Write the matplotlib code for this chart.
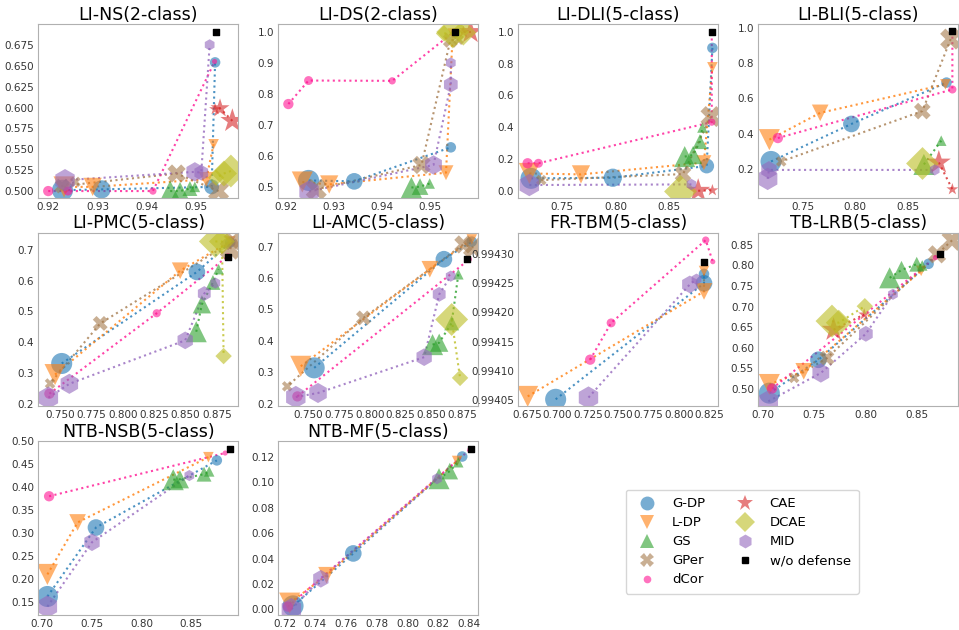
import numpy as np
import matplotlib.pyplot as plt
from matplotlib.lines import Line2D

methods = ['G-DP', 'L-DP', 'GS', 'GPer', 'dCor', 'CAE', 'DCAE', 'MID']
colors = ['tab:blue', 'tab:orange', 'tab:green', '#a57a4c', 'deeppink', 'tab:red', 'tab:olive', 'tab:purple']
markers = ['o', 'v', '^', 'X', 'o', '*', 'D', 'h']
base_size = [230, 230, 230, 230, 55, 330, 280, 260]

# (main task acc, attack acc) per defense, strongest defense first
li_ns = {
    'G-DP': [(0.9229, 0.501), (0.9308, 0.502), (0.9531, 0.505), (0.9538, 0.654)],
    'L-DP': [(0.9232, 0.505), (0.9290, 0.505), (0.9520, 0.514), (0.9535, 0.556)],
    'GS': [(0.9447, 0.500), (0.9467, 0.500), (0.9487, 0.503), (0.9497, 0.505)],
    'GPer': [(0.9545, 0.500), (0.9460, 0.521), (0.9228, 0.506), (0.9255, 0.511)],
    'dCor': [(0.9200, 0.500), (0.9240, 0.500), (0.9412, 0.500), (0.9537, 0.655)],
    'CAE': [(0.9573, 0.584), (0.9548, 0.599), (0.9538, 0.598)],
    'DCAE': [(0.9570, 0.524), (0.9556, 0.521), (0.9540, 0.516)],
    'MID': [(0.9234, 0.513), (0.9497, 0.523), (0.9510, 0.522), (0.9527, 0.675)],
}
li_ds = {
    'G-DP': [(0.9248, 0.520), (0.9343, 0.517), (0.9544, 0.627)],
    'L-DP': [(0.9235, 0.515), (0.9291, 0.507), (0.9534, 0.545), (0.9548, 0.995)],
    'GS': [(0.9462, 0.497), (0.9480, 0.500), (0.9500, 0.510)],
    'GPer': [(0.9264, 0.491), (0.9483, 0.570), (0.9543, 0.973), (0.9560, 0.975)],
    'dCor': [(0.9206, 0.767), (0.9248, 0.843), (0.9422, 0.842), (0.9550, 1.000)],
    'CAE': [(0.9585, 1.000), (0.9570, 1.000)],
    'DCAE': [(0.9548, 1.000), (0.9570, 0.998), (0.9530, 0.995)],
    'MID': [(0.9249, 0.484), (0.9508, 0.570), (0.9544, 0.830), (0.9544, 0.900)],
}
li_dli = {
    'G-DP': [(0.7204, 0.078), (0.7975, 0.082), (0.8860, 0.156), (0.8914, 0.899)],
    'L-DP': [(0.7188, 0.109), (0.7675, 0.103), (0.8834, 0.177), (0.8914, 0.777)],
    'GS': [(0.8653, 0.215), (0.8732, 0.225), (0.8796, 0.309), (0.8820, 0.398)],
    'GPer': [(0.8901, 0.467), (0.8637, 0.105), (0.7300, 0.067)],
    'dCor': [(0.7172, 0.173), (0.7274, 0.173), (0.8908, 0.432), (0.8908, 1.000)],
    'CAE': [(0.8780, 0.000), (0.8914, 0.003)],
    'DCAE': [(0.8610, 0.000)],
    'MID': [(0.7188, 0.036), (0.8716, 0.040)],
}
li_bli = {
    'G-DP': [(0.7200, 0.242), (0.7965, 0.455), (0.8870, 0.690)],
    'L-DP': [(0.7184, 0.366), (0.7668, 0.518), (0.8860, 0.680)],
    'GS': [(0.8655, 0.225), (0.8820, 0.360)],
    'GPer': [(0.8910, 0.937), (0.8640, 0.528), (0.7297, 0.242)],
    'dCor': [(0.7265, 0.375), (0.8926, 0.651), (0.8926, 0.975)],
    'CAE': [(0.8797, 0.236), (0.8926, 0.084)],
    'DCAE': [(0.8640, 0.232)],
    'MID': [(0.7168, 0.143), (0.7180, 0.194), (0.8758, 0.194)],
}
li_pmc = {
    'G-DP': [(0.7513, 0.331), (0.8590, 0.628), (0.8856, 0.724)],
    'L-DP': [(0.7460, 0.295), (0.8457, 0.632), (0.8856, 0.727)],
    'GS': [(0.8585, 0.434), (0.8630, 0.523), (0.8718, 0.594), (0.8763, 0.637)],
    'GPer': [(0.8856, 0.702), (0.8875, 0.728), (0.7820, 0.461), (0.7420, 0.266)],
    'dCor': [(0.7415, 0.233), (0.8270, 0.494), (0.8838, 0.680)],
    'CAE': [],
    'DCAE': [(0.8737, 0.727), (0.8790, 0.727), (0.8803, 0.355)],
    'MID': [(0.7407, 0.220), (0.7574, 0.265), (0.8497, 0.406), (0.8649, 0.558), (0.8737, 0.592)],
}
li_amc = {
    'G-DP': [(0.7549, 0.314), (0.8600, 0.660), (0.8826, 0.716)],
    'L-DP': [(0.7440, 0.319), (0.8486, 0.628), (0.8826, 0.723)],
    'GS': [(0.8508, 0.388), (0.8562, 0.394), (0.8663, 0.457), (0.8717, 0.612)],
    'GPer': [(0.8840, 0.697), (0.8758, 0.707), (0.7948, 0.473), (0.7330, 0.255)],
    'dCor': [(0.7413, 0.223), (0.8807, 0.660)],
    'CAE': [],
    'DCAE': [(0.8663, 0.468), (0.8731, 0.282)],
    'MID': [(0.7400, 0.221), (0.7580, 0.234), (0.8440, 0.348), (0.8562, 0.548), (0.8655, 0.606)],
}
fr_tbm = {
    'G-DP': [(0.6986, 0.994051), (0.8206, 0.994250), (0.8206, 0.994266)],
    'L-DP': [(0.6756, 0.994056), (0.8206, 0.994236), (0.8206, 0.994271)],
    'dCor': [(0.7270, 0.994119), (0.7442, 0.994182), (0.8220, 0.994324), (0.8278, 0.994287)],
    'MID': [(0.7256, 0.994054), (0.8089, 0.994248), (0.8144, 0.994257)],
}
tb_lrb = {
    'G-DP': [(0.7066, 0.490), (0.7543, 0.571), (0.8612, 0.804)],
    'L-DP': [(0.7066, 0.511), (0.7400, 0.543), (0.8540, 0.787)],
    'GS': [(0.8234, 0.770), (0.8349, 0.789), (0.8497, 0.803), (0.8550, 0.800)],
    'GPer': [(0.8840, 0.861), (0.8694, 0.827), (0.7625, 0.575), (0.7306, 0.527)],
    'dCor': [(0.7092, 0.501), (0.8678, 0.819)],
    'CAE': [(0.7690, 0.644), (0.7987, 0.681)],
    'DCAE': [(0.7674, 0.665), (0.7740, 0.661), (0.7993, 0.701)],
    'MID': [(0.7056, 0.470), (0.7566, 0.539), (0.8003, 0.634), (0.8266, 0.730)],
}
ntb_nsb = {
    'G-DP': [(0.7051, 0.162), (0.7540, 0.312), (0.8757, 0.458)],
    'L-DP': [(0.7051, 0.210), (0.7355, 0.323), (0.8672, 0.465)],
    'GS': [(0.8318, 0.416), (0.8385, 0.417), (0.8628, 0.428), (0.8680, 0.434)],
    'dCor': [(0.7068, 0.380), (0.8841, 0.474)],
    'MID': [(0.7051, 0.140), (0.7500, 0.280), (0.8480, 0.425)],
}
ntb_mf = {
    'G-DP': [(0.7255, 0.0026), (0.7647, 0.044), (0.8356, 0.1205)],
    'L-DP': [(0.7233, 0.0048), (0.7473, 0.0268), (0.8323, 0.117)],
    'GS': [(0.8205, 0.103), (0.8275, 0.109), (0.8330, 0.116)],
    'dCor': [(0.7222, 0.002), (0.8406, 0.126)],
    'MID': [(0.7244, 0.000), (0.7436, 0.024), (0.8192, 0.103)],
}

titles = ['LI-NS(2-class)', 'LI-DS(2-class)', 'LI-DLI(5-class)', 'LI-BLI(5-class)',
          'LI-PMC(5-class)', 'LI-AMC(5-class)', 'FR-TBM(5-class)', 'TB-LRB(5-class)',
          'NTB-NSB(5-class)', 'NTB-MF(5-class)']
panels = [li_ns, li_ds, li_dli, li_bli, li_pmc, li_amc, fr_tbm, tb_lrb, ntb_nsb, ntb_mf]
no_defense = [(0.9539, 0.690), (0.9552, 1.000), (0.8908, 1.000), (0.8926, 0.981),
              (0.8838, 0.678), (0.8785, 0.660), (0.8206, 0.994287), (0.8727, 0.827),
              (0.8885, 0.483), (0.8413, 0.1266)]

xlims = [(0.918, 0.9585), (0.9185, 0.9601), (0.7083, 0.8968), (0.7077, 0.898),
         (0.7327, 0.892), (0.7258, 0.8878), (0.6678, 0.8322), (0.6957, 0.8898),
         (0.696, 0.8973), (0.7159, 0.846)]
ylims = [(0.492, 0.700), (0.464, 1.026), (-0.044, 1.05), (0.036, 1.023),
         (0.192, 0.756), (0.1915, 0.745), (0.994039, 0.994337), (0.458, 0.88),
         (0.122, 0.50), (-0.0045, 0.1327)]
xticks = [[0.92, 0.93, 0.94, 0.95], [0.92, 0.93, 0.94, 0.95], [0.75, 0.80, 0.85], [0.75, 0.80, 0.85],
          [0.750, 0.775, 0.800, 0.825, 0.850, 0.875], [0.750, 0.775, 0.800, 0.825, 0.850, 0.875],
          [0.675, 0.700, 0.725, 0.750, 0.775, 0.800, 0.825], [0.70, 0.75, 0.80, 0.85],
          [0.70, 0.75, 0.80, 0.85], [0.72, 0.74, 0.76, 0.78, 0.80, 0.82, 0.84]]
yticks = [[0.500, 0.525, 0.550, 0.575, 0.600, 0.625, 0.650, 0.675],
          [0.5, 0.6, 0.7, 0.8, 0.9, 1.0],
          [0.0, 0.2, 0.4, 0.6, 0.8, 1.0],
          [0.2, 0.4, 0.6, 0.8, 1.0],
          [0.2, 0.3, 0.4, 0.5, 0.6, 0.7],
          [0.2, 0.3, 0.4, 0.5, 0.6, 0.7],
          [0.99405, 0.99410, 0.99415, 0.99420, 0.99425, 0.99430],
          [0.50, 0.55, 0.60, 0.65, 0.70, 0.75, 0.80, 0.85],
          [0.15, 0.20, 0.25, 0.30, 0.35, 0.40, 0.45, 0.50],
          [0.00, 0.02, 0.04, 0.06, 0.08, 0.10, 0.12]]

fig, axes = plt.subplots(3, 4, figsize=(9.59, 6.3), dpi=100)
plt.subplots_adjust(left=0.040, right=0.999, top=0.962, bottom=0.024, wspace=0.2, hspace=0.2)
axes = axes.flatten()

for k, ax in enumerate(axes):
    if k >= len(panels):
        ax.axis('off')
        continue
    data = panels[k]
    for m, name in enumerate(methods):
        pts = data.get(name, [])
        if len(pts) == 0:
            continue
        pts = np.array(pts)
        n = len(pts)
        frac = np.linspace(1.0, 0.25, n) if n > 1 else np.array([1.0])
        ax.plot(pts[:, 0], pts[:, 1], ':', color=colors[m], lw=1.5, alpha=0.8, zorder=1)
        ax.scatter(pts[:, 0], pts[:, 1], s=base_size[m] * frac, marker=markers[m],
                   color=colors[m], alpha=0.6, linewidths=0, zorder=2)
    ax.scatter([no_defense[k][0]], [no_defense[k][1]], s=18, marker='s', color='black', zorder=3)
    ax.set_title(titles[k], fontsize=12.5, pad=3)
    ax.set_xticks(xticks[k])
    ax.set_yticks(yticks[k])
    ax.set_xlim(xlims[k])
    ax.set_ylim(ylims[k])
    ax.ticklabel_format(useOffset=False)
    ax.tick_params(labelsize=7.5, length=0, pad=3, colors='#333333')
    for sp in ax.spines.values():
        sp.set_color('#b0b0b0')

handles = []
for m, name in enumerate(methods):
    ms = 10
    if name == 'dCor':
        ms = 5.5
    elif name == 'CAE':
        ms = 12
    handles.append(Line2D([], [], ls='', marker=markers[m], color=colors[m], alpha=0.6,
                          markersize=ms, markeredgewidth=0, label=name))
handles.append(Line2D([], [], ls='', marker='s', color='black', markersize=4.5, label='w/o defense'))
fig.legend(handles=handles, loc='center', bbox_to_anchor=(0.774, 0.14),
           ncol=2, fontsize=9.5, frameon=True, handletextpad=0.9, columnspacing=2.0,
           labelspacing=0.45, borderpad=0.6)

plt.savefig('out.png', dpi=100)
